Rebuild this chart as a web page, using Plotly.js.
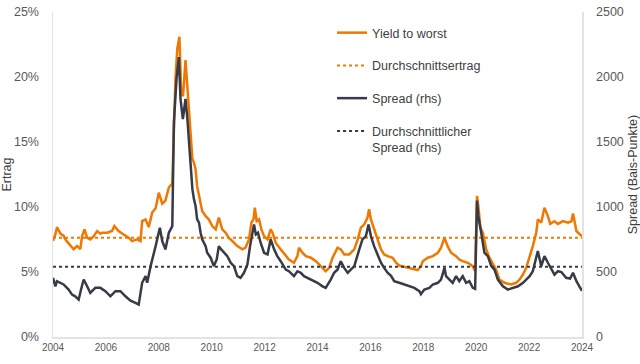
<!DOCTYPE html>
<html>
<head>
<meta charset="utf-8">
<script src="https://cdn.plot.ly/plotly-3.0.1.min.js"></script>
<style>html,body{margin:0;padding:0;background:#fff;}#chart{width:640px;height:364px;}</style>
</head>
<body>
<div id="chart"></div>
<script>
// ---- Data ----
const yieldYears = [2004.00,2004.09,2004.15,2004.28,2004.40,2004.47,2004.59,2004.66,2004.78,2004.91,2005.03,2005.10,2005.19,2005.29,2005.41,2005.54,2005.67,2005.79,2005.86,2006.05,2006.23,2006.32,2006.48,2006.67,2006.86,2006.99,2007.18,2007.31,2007.37,2007.50,2007.62,2007.75,2007.88,2008.00,2008.13,2008.25,2008.38,2008.51,2008.57,2008.63,2008.70,2008.78,2008.85,2008.92,2009.01,2009.10,2009.20,2009.27,2009.33,2009.39,2009.45,2009.54,2009.64,2009.77,2009.89,2010.02,2010.15,2010.27,2010.40,2010.53,2010.65,2010.72,2010.84,2010.97,2011.16,2011.28,2011.41,2011.50,2011.58,2011.63,2011.70,2011.79,2011.88,2011.98,2012.11,2012.23,2012.30,2012.42,2012.61,2012.80,2012.92,2013.11,2013.24,2013.30,2013.43,2013.56,2013.75,2013.94,2014.13,2014.31,2014.44,2014.57,2014.76,2014.88,2015.01,2015.20,2015.39,2015.52,2015.64,2015.77,2015.89,2015.95,2016.02,2016.14,2016.27,2016.40,2016.52,2016.65,2016.84,2016.97,2017.09,2017.28,2017.41,2017.66,2017.79,2017.91,2017.98,2018.17,2018.36,2018.55,2018.67,2018.80,2018.92,2019.05,2019.24,2019.36,2019.49,2019.68,2019.87,2019.96,2020.03,2020.08,2020.16,2020.25,2020.38,2020.50,2020.63,2020.75,2020.88,2021.07,2021.32,2021.51,2021.64,2021.77,2021.89,2022.02,2022.14,2022.27,2022.33,2022.46,2022.58,2022.71,2022.80,2022.96,2023.09,2023.28,2023.47,2023.60,2023.66,2023.79,2023.88,2024.00];
const yieldValues = [7.4,7.9,8.45,7.95,7.8,7.5,7.2,7.0,6.75,7.0,6.75,7.76,8.28,7.64,7.51,7.76,8.15,7.95,8.02,8.02,8.15,8.53,8.15,7.89,7.64,7.38,7.51,7.38,8.92,9.05,8.45,9.57,9.9,11.1,10.25,10.5,11.5,11.8,16.8,19.85,22.2,23.1,18.6,18.6,21.3,18.8,15.7,13.7,13.4,12.9,11.6,10.6,9.69,9.3,9.05,8.53,8.28,9.18,8.28,8.02,7.6,7.5,7.25,6.99,6.74,6.87,7.51,8.8,9.05,9.95,8.92,9.05,8.28,7.76,7.51,8.28,8.02,7.25,6.74,6.22,5.96,5.71,6.22,6.87,6.48,6.22,6.1,5.83,5.45,5.06,5.32,6.1,6.87,6.74,6.35,6.35,6.74,7.51,8.41,8.67,9.18,9.82,9.05,8.28,7.51,6.74,6.35,6.22,6.1,5.71,5.5,5.4,5.32,5.19,5.14,5.45,5.83,6.1,6.22,6.48,6.87,7.64,6.99,6.48,6.22,5.96,5.83,5.71,5.45,5.06,10.85,10.08,8.41,8.02,6.74,6.1,5.58,5.19,4.42,4.17,4.04,4.17,4.42,4.81,5.32,6.1,6.99,8.02,9.05,8.8,9.95,9.3,8.7,8.9,8.7,8.92,8.8,8.9,9.5,8.15,8.0,7.75];

const spreadYears = [2004.00,2004.09,2004.15,2004.28,2004.40,2004.59,2004.72,2004.84,2004.97,2005.06,2005.16,2005.29,2005.41,2005.60,2005.79,2005.98,2006.17,2006.36,2006.55,2006.74,2006.93,2007.12,2007.24,2007.37,2007.50,2007.56,2007.69,2007.88,2008.04,2008.13,2008.25,2008.38,2008.51,2008.57,2008.67,2008.76,2008.82,2008.91,2009.01,2009.08,2009.20,2009.27,2009.33,2009.39,2009.45,2009.52,2009.58,2009.64,2009.77,2009.83,2009.96,2010.08,2010.19,2010.27,2010.36,2010.46,2010.59,2010.72,2010.84,2010.97,2011.09,2011.22,2011.35,2011.45,2011.54,2011.60,2011.67,2011.75,2011.85,2011.98,2012.11,2012.23,2012.36,2012.48,2012.61,2012.80,2012.92,2013.11,2013.24,2013.37,2013.49,2013.75,2014.00,2014.19,2014.31,2014.50,2014.63,2014.76,2014.88,2015.01,2015.14,2015.26,2015.39,2015.58,2015.70,2015.83,2015.93,2016.02,2016.14,2016.27,2016.40,2016.52,2016.65,2016.78,2016.90,2017.09,2017.28,2017.47,2017.66,2017.85,2017.91,2018.04,2018.23,2018.36,2018.55,2018.67,2018.80,2018.86,2018.98,2019.11,2019.24,2019.36,2019.49,2019.62,2019.74,2019.87,2019.96,2020.03,2020.08,2020.14,2020.21,2020.31,2020.44,2020.57,2020.69,2020.82,2021.01,2021.20,2021.39,2021.58,2021.77,2021.89,2022.02,2022.14,2022.33,2022.46,2022.58,2022.71,2022.84,2022.96,2023.09,2023.22,2023.40,2023.55,2023.66,2023.79,2023.90,2024.00];
const spreadValues = [455,390,429,417,404,365,326,313,288,365,442,390,339,378,378,352,313,352,352,313,280,262,249,417,468,417,545,699,841,738,674,802,853,1651,1985,2153,1831,1677,1831,1677,1368,1137,1059,1008,905,880,802,751,699,648,610,545,596,699,674,648,622,571,545,468,455,494,558,699,802,866,789,802,725,648,635,751,674,622,583,519,506,468,506,494,468,442,417,390,378,442,494,519,583,532,494,519,545,674,751,776,866,776,699,635,571,532,494,470,430,417,404,390,378,352,330,365,378,404,417,442,532,468,442,417,468,429,468,417,429,378,370,1050,931,841,776,648,622,545,519,442,390,365,378,390,417,442,468,506,661,545,622,571,519,480,506,500,455,450,494,429,390,355];

const periodYears = [2004, 2024];
const avgYield = [7.64, 7.64];
const avgSpread = [540, 540];

const seriesNames = ["Yield to worst", "Durchschnittsertrag", "Spread (rhs)", "Durchschnittlicher<br>Spread (rhs)"];
const xTickVals = [2004,2006,2008,2010,2012,2014,2016,2018,2020,2022,2024];
const yTickVals = [0,5,10,15,20,25];
const yTickText = ["0%","5%","10%","15%","20%","25%"];
const y2TickVals = [0,500,1000,1500,2000,2500];

// ---- Styles ----
const ORANGE = "#F07800";
const DARK = "#363B47";
const FONT = "Liberation Sans, Arial, sans-serif";

const traces = [
  {x: yieldYears, y: yieldValues, name: seriesNames[0], type: "scatter", mode: "lines",
   line: {color: ORANGE, width: 2.5}, legendgroup: "a", yaxis: "y"},
  {x: periodYears, y: avgYield, name: seriesNames[1], type: "scatter", mode: "lines",
   line: {color: ORANGE, width: 2, dash: "dot"}, legendgroup: "b", yaxis: "y"},
  {x: spreadYears, y: spreadValues, name: seriesNames[2], type: "scatter", mode: "lines",
   line: {color: DARK, width: 2.5}, legendgroup: "c", yaxis: "y2"},
  {x: periodYears, y: avgSpread, name: seriesNames[3], type: "scatter", mode: "lines",
   line: {color: DARK, width: 2, dash: "dot"}, legendgroup: "d", yaxis: "y2"}
];

const layout = {
  width: 640, height: 364,
  margin: {l: 53, r: 58, t: 12, b: 27, pad: 0},
  paper_bgcolor: "#fff", plot_bgcolor: "#fff",
  font: {family: FONT, color: "#595959", size: 12},
  showlegend: true,
  legend: {x: 0.5275, y: 0.9815, xanchor: "left", yanchor: "top",
           font: {family: FONT, size: 12.5, color: "#404040"},
           bgcolor: "rgba(0,0,0,0)", traceorder: "grouped", tracegroupgap: 13.5,
           valign: "top"},
  xaxis: {type: "linear", range: [2004, 2024], tickvals: xTickVals, tickformat: "d",
          showgrid: false, zeroline: false, showline: true, linecolor: "#E3E3E3", linewidth: 1.5,
          ticks: "", tickfont: {size: 10, color: "#595959"}},
  yaxis: {range: [0, 25], tickvals: yTickVals, ticktext: yTickText,
          showgrid: false, zeroline: false, showline: true, linecolor: "#E3E3E3", linewidth: 1.5,
          ticks: "", ticklabelstandoff: 10, tickfont: {size: 12.5, color: "#595959"},
          title: {text: "Ertrag", font: {size: 12.5, color: "#404040"}, standoff: 6}},
  yaxis2: {range: [0, 2500], tickvals: y2TickVals, overlaying: "y", side: "right",
           showgrid: false, zeroline: false, showline: true, linecolor: "#E3E3E3", linewidth: 1.5,
           ticks: "", ticklabelstandoff: 10, tickfont: {size: 12.5, color: "#595959"},
           title: {text: "Spread (Bais-Punkte)", font: {size: 12.5, color: "#404040"}, standoff: 8}}
};

Plotly.newPlot("chart", traces, layout, {staticPlot: true, displayModeBar: false});
</script>
</body>
</html>
